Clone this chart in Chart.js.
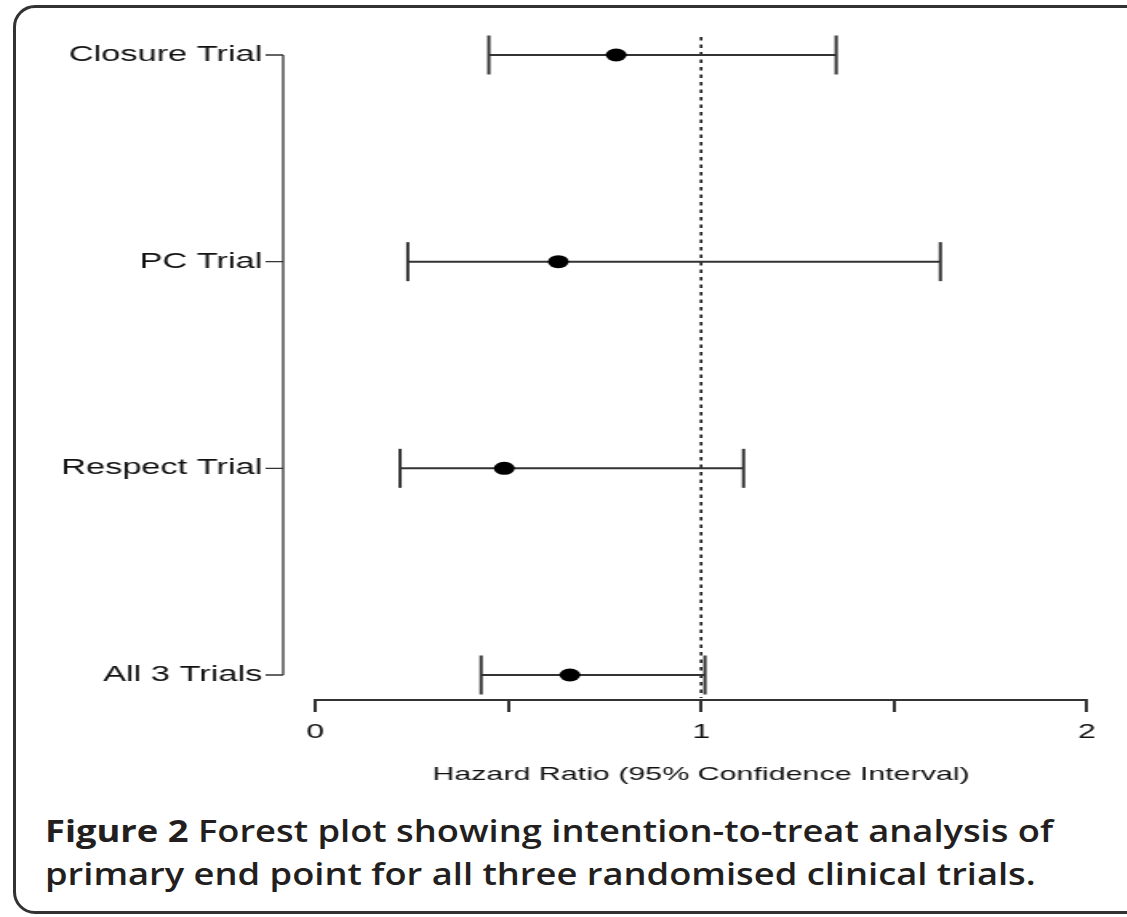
<!DOCTYPE html>
<html>
<head>
<meta charset="utf-8">
<script src="https://cdn.jsdelivr.net/npm/chart.js@4.4.1/dist/chart.umd.min.js"></script>
<style>
  html, body { margin: 0; padding: 0; background: #fff; width: 1127px; height: 917px; overflow: hidden; }
  #frame { position: absolute; left: 13px; top: 5px; width: 1200px; height: 903px; border: 3px solid #333; border-radius: 22px; }
  /* the source figure is stretched sideways, so the chart canvas and caption are too */
  #plot { position: absolute; left: 0; top: 0; transform: scaleX(1.6); transform-origin: 0 0; }
  #caption { position: absolute; left: 45px; top: 809px; font-family: "Open Sans"; font-size: 30px; font-weight: 600; line-height: 43px; color: #231f20; white-space: nowrap; transform: scaleX(1.21); transform-origin: 0 0; }
  #caption b { font-weight: 700; }
</style>
</head>
<body>
<div id="frame"></div>
<canvas id="plot" width="705" height="800"></canvas>
<div id="caption"><b>Figure 2</b> Forest plot showing intention-to-treat analysis of<br>primary end point for all three randomised clinical trials.</div>
<script>
// bottom to top
const trials = ["All 3 Trials", "Respect Trial", "PC Trial", "Closure Trial"];
const hazardRatio = [0.66, 0.49, 0.63, 0.78];
const ciLower = [0.43, 0.22, 0.24, 0.45];
const ciUpper = [1.01, 1.11, 1.62, 1.35];
const xTicks = [0, 0.5, 1, 1.5, 2];
const xTickLabels = ["0", "", "1", "", "2"];
const refLine = 1;
const yMin = -0.121, yMax = 3.087;

const LINE = "#333";
const FONT = "Liberation Sans";

// R style bracket axis on the left, set off from the plot area
const bracketAxis = {
  id: "bracketAxis",
  afterDraw(chart) {
    const { ctx, chartArea, scales: { y } } = chart;
    const x0 = chartArea.left - 20;
    ctx.save();
    ctx.strokeStyle = LINE;
    ctx.lineWidth = 1.3;
    ctx.beginPath();
    ctx.moveTo(x0, y.getPixelForValue(trials.length - 1));
    ctx.lineTo(x0, y.getPixelForValue(0));
    trials.forEach((_, i) => {
      const py = y.getPixelForValue(i);
      ctx.moveTo(x0, py);
      ctx.lineTo(x0 - 11, py);
    });
    ctx.stroke();
    ctx.restore();
  }
};

const datasets = [];

datasets.push({
  label: "Hazard ratio",
  data: hazardRatio.map((v, i) => ({ x: v, y: i })),
  pointStyle: "circle",
  pointRadius: 6.5,
  pointBackgroundColor: "#000",
  pointBorderWidth: 0,
  showLine: false,
  order: 0,
  clip: false
});

trials.forEach((t, i) => {
  datasets.push({
    label: t,
    data: [{ x: ciLower[i], y: i }, { x: ciUpper[i], y: i }],
    showLine: true,
    borderColor: LINE,
    borderWidth: 2,
    pointStyle: "line",
    pointRotation: 90,
    pointRadius: 19.5,
    pointBorderColor: LINE,
    pointBorderWidth: 2,
    order: 1,
    clip: false
  });
});

datasets.push({
  label: "No effect",
  data: [{ x: refLine, y: yMax }, { x: refLine, y: yMin + 0.01 }],
  showLine: true,
  borderColor: "#222",
  borderWidth: 1.7,
  borderDash: [3.5, 4],
  pointRadius: 0,
  order: 2,
  clip: false
});

new Chart(document.getElementById("plot"), {
  type: "scatter",
  data: { datasets },
  plugins: [bracketAxis],
  options: {
    responsive: false,
    animation: false,
    events: [],
    layout: { autoPadding: false, padding: { top: 37, left: 0, right: 25.6, bottom: 0 } },
    plugins: { legend: { display: false }, tooltip: { enabled: false } },
    scales: {
      x: {
        type: "linear",
        min: 0,
        max: 2,
        afterBuildTicks: (s) => { s.ticks = xTicks.map((v) => ({ value: v })); },
        afterFit: (s) => { s.height = 100; },
        ticks: {
          callback: (v, i) => xTickLabels[i],
          font: { family: FONT, size: 20 },
          color: "#111",
          padding: 8,
          maxRotation: 0,
          autoSkip: false
        },
        grid: { display: true, drawOnChartArea: false, drawTicks: true, tickLength: 12, color: LINE, lineWidth: 2 },
        border: { display: true, color: LINE, width: 2 },
        title: {
          display: true,
          text: "Hazard Ratio (95% Confidence Interval)",
          font: { family: FONT, size: 19 },
          color: "#111",
          padding: { top: 0, bottom: 14 }
        }
      },
      y: {
        type: "linear",
        min: yMin,
        max: yMax,
        afterBuildTicks: (s) => { s.ticks = trials.map((_, i) => ({ value: i })); },
        afterFit: (s) => { s.width = 197; s.paddingTop = 0; s.paddingBottom = 0; },
        ticks: {
          callback: (v) => trials[v],
          font: { family: FONT, size: 21.5 },
          color: "#111",
          padding: 33,
          autoSkip: false
        },
        grid: { display: false, drawTicks: false },
        border: { display: false }
      }
    }
  }
});
</script>
</body>
</html>
